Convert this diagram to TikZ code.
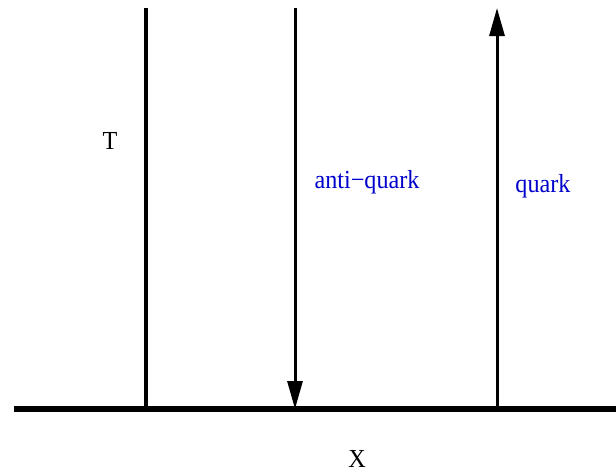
\documentclass[tikz,border=0pt]{standalone}
\usepackage{fontspec}
\setmainfont[FakeStretch=0.93]{Liberation Serif}
\usepackage{xcolor}
\usetikzlibrary{arrows.meta}
\definecolor{labelblue}{RGB}{0,0,205}

\begin{document}
\begin{tikzpicture}[x=1pt,y=-1pt,
    label text/.style={font=\fontsize{26}{30}\selectfont,inner sep=1pt},
    quark arrow/.style={-{Triangle[length=28pt,width=15pt]}}]
    \useasboundingbox (0,0) rectangle (616,474);

    % axis and world lines
    \coordinate (L) at (14,409);
    \coordinate (R) at (616,409);
    \coordinate (A) at (146,8);
    \coordinate (B) at (146,409);
    \coordinate (C) at (295,8);
    \coordinate (D) at (295,409);
    \coordinate (E) at (497,409);
    \coordinate (F) at (497,8);

    \draw[line width=6pt] (L) -- (R);
    \draw[line width=4pt] (A) -- (B);
    \draw[line width=3pt,quark arrow] (C) -- (D);
    \draw[line width=3pt,quark arrow] (E) -- (F);

    % labels
    \node[label text] (T) at (110,141) {T};
    \node[label text] (X) at (357,459) {X};
    \node[label text,text=labelblue] (aq) at (367,182) {anti−quark};
    \node[label text,text=labelblue] (q) at (543,186) {quark};

\end{tikzpicture}
\end{document}
